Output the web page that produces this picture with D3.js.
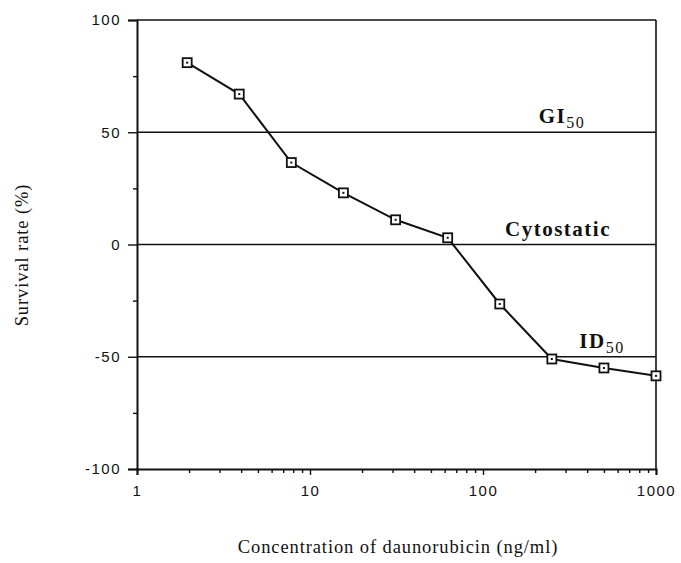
<!DOCTYPE html>
<html>
<head>
<meta charset="utf-8">
<script src="https://cdn.jsdelivr.net/npm/d3@7"></script>
<style>
  html, body { margin: 0; padding: 0; background: #fff; }
  svg { display: block; }
</style>
</head>
<body>
<svg id="chart" width="681" height="563"></svg>
<script>
// Daunorubicin dose-response: survival rate versus concentration (twofold dilutions)
const concentrations = [1.95, 3.9, 7.8, 15.6, 31.25, 62.5, 125, 250, 500, 1000];
const survival = [81, 67, 36.5, 23, 11, 3, -26.5, -51, -55, -58.5];

const yMajorTicks = [-100, -50, 0, 50, 100];
const yTickLabels = ["-100", "-50", "0", "50", "100"];
const yMinorTicks = [-75, -25, 25, 75];
const xMajorTicks = [1, 10, 100, 1000];
const xTickLabels = ["1", "10", "100", "1000"];

// Horizontal reference levels and their labels
const refLevels = [100, 50, 0, -50];
const refLabels = [
  { value: 50, main: "GI", sub: "50", at: 562 },
  { value: 0, main: "Cytostatic", sub: "", at: 558 },
  { value: -50, main: "ID", sub: "50", at: 602 }
];

const svg = d3.select("#chart");
const plotLeft = 137, plotRight = 656, plotTop = 20, plotBottom = 469;

const x = d3.scaleLog().domain([1, 1000]).range([plotLeft, plotRight]);
const y = d3.scaleLinear().domain([-100, 100]).range([plotBottom, plotTop]);

// minor log ticks 2..9 in each decade
const xMinorTicks = [];
[1, 10, 100].forEach(d => { for (let k = 2; k <= 9; k++) xMinorTicks.push(d * k); });

const tickFont = "'Liberation Sans', Arial, sans-serif";
const serif = "'Liberation Serif', 'Times New Roman', serif";

// reference lines
svg.append("g").selectAll("line").data(refLevels).join("line")
  .attr("x1", plotLeft).attr("x2", plotRight)
  .attr("y1", d => y(d)).attr("y2", d => y(d))
  .attr("stroke", "#111").attr("stroke-width", 1.6);

// right frame line
svg.append("line")
  .attr("x1", plotRight).attr("x2", plotRight)
  .attr("y1", y(100)).attr("y2", y(-100))
  .attr("stroke", "#111").attr("stroke-width", 1.6);

// y axis
svg.append("g").attr("transform", `translate(${plotLeft},0)`)
  .call(d3.axisLeft(y).tickValues(yMajorTicks).tickSize(9).tickPadding(7)
    .tickFormat((d, i) => yTickLabels[i]));
svg.append("g").attr("transform", `translate(${plotLeft},0)`)
  .call(d3.axisLeft(y).tickValues(yMinorTicks).tickSize(4).tickFormat(""))
  .call(g => g.select(".domain").remove());

// x axis
svg.append("g").attr("transform", `translate(0,${plotBottom})`)
  .call(d3.axisBottom(x).tickValues(xMajorTicks).tickSize(6).tickPadding(10)
    .tickFormat((d, i) => xTickLabels[i]));
svg.append("g").attr("transform", `translate(0,${plotBottom})`)
  .call(d3.axisBottom(x).tickValues(xMinorTicks).tickSize(4).tickFormat(""))
  .call(g => g.select(".domain").remove());

svg.selectAll(".domain").attr("stroke", "#111").attr("stroke-width", 2);
svg.selectAll(".tick line").attr("stroke", "#111").attr("stroke-width", 1.4);
svg.selectAll(".tick text")
  .attr("fill", "#111")
  .style("font-family", tickFont)
  .style("font-size", "15px")
  .style("letter-spacing", "1.5px");

// data line
const line = d3.line().x((d, i) => x(concentrations[i])).y(d => y(d));
svg.append("path").datum(survival)
  .attr("d", line)
  .attr("fill", "none")
  .attr("stroke", "#111")
  .attr("stroke-width", 2);

// square markers with a centre dot
const markers = svg.append("g").selectAll("g").data(survival).join("g")
  .attr("transform", (d, i) => `translate(${x(concentrations[i])},${y(d)})`);
markers.append("rect")
  .attr("x", -4.5).attr("y", -4.5).attr("width", 9).attr("height", 9)
  .attr("fill", "#fff").attr("stroke", "#111").attr("stroke-width", 1.8);
markers.append("rect")
  .attr("x", -1).attr("y", -1).attr("width", 2).attr("height", 2)
  .attr("fill", "#111");

// level labels
refLabels.forEach(r => {
  const t = svg.append("text")
    .attr("x", r.at).attr("y", y(r.value) - 9)
    .attr("text-anchor", "middle")
    .attr("fill", "#111")
    .style("font-family", serif)
    .style("font-weight", "bold")
    .style("font-size", "21px")
    .style("letter-spacing", "1.5px");
  t.append("tspan").text(r.main);
  if (r.sub) {
    t.append("tspan").attr("dy", 5).style("font-size", "16px").style("font-weight", "normal").text(r.sub);
  }
});

// axis titles
svg.append("text")
  .attr("x", 398).attr("y", 553)
  .attr("text-anchor", "middle")
  .attr("fill", "#111")
  .style("font-family", serif)
  .style("font-size", "18.5px")
  .style("letter-spacing", "0.9px")
  .text("Concentration of daunorubicin (ng/ml)");

svg.append("text")
  .attr("transform", "translate(28,255) rotate(-90)")
  .attr("text-anchor", "middle")
  .attr("fill", "#111")
  .style("font-family", serif)
  .style("font-size", "18.5px")
  .style("letter-spacing", "0.9px")
  .text("Survival rate (%)");
</script>
</body>
</html>
